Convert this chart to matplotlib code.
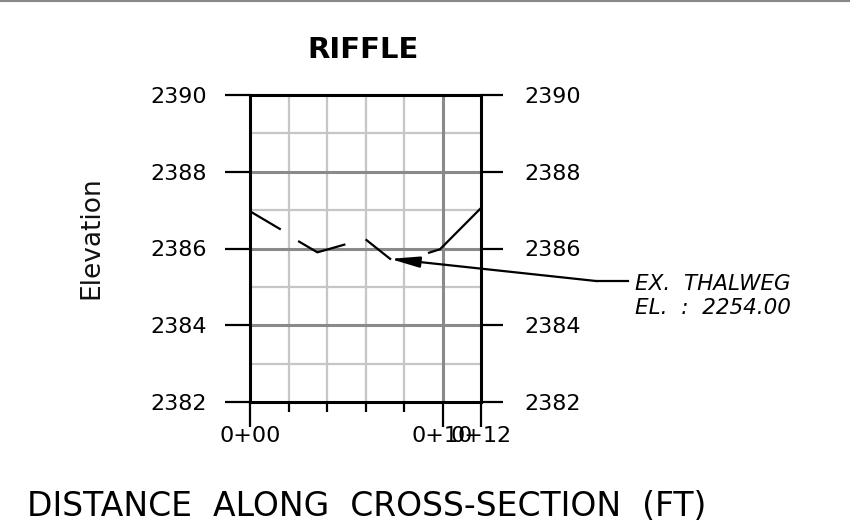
import numpy as np
import matplotlib
matplotlib.use("Agg")
import matplotlib.pyplot as plt
from matplotlib.lines import Line2D

# ---- data ----
station = [0.0, 1.55, np.nan, 2.55, 3.5, 4.9, np.nan, 6.05, 7.28, np.nan, 9.3, 9.87, 11.97]
elevation = [2386.97, 2386.51, np.nan, 2386.18, 2385.9, 2386.1, np.nan, 2386.22, 2385.73, np.nan, 2385.89, 2385.98, 2387.04]
x_major = [0, 10, 12]
x_minor = [2, 4, 6, 8]
x_labels = ["0+00", "0+10", "0+12"]
y_ticks = [2382, 2384, 2386, 2388, 2390]
title = "RIFFLE"
ylabel = "Elevation"
xlabel = "DISTANCE  ALONG  CROSS-SECTION  (FT)"
note = "EX.  THALWEG\nEL.  :  2254.00"

plt.rcParams['font.family'] = ['DejaVu Sans']

W, H = 850, 529
fig = plt.figure(figsize=(W / 100, H / 100), dpi=100)
ax = fig.add_axes([250 / W, 1 - 402 / H, 231 / W, 307 / H])
ax.set_xlim(0, 12)
ax.set_ylim(2382, 2390)

light = "#c6c6c6"
dark = "#8a8a8a"
for xv in [2, 4, 6, 8]:
    ax.axvline(xv, color=light, lw=1.6, zorder=1)
ax.axvline(10, color=dark, lw=2.2, zorder=1.5)
for yv in [2383, 2385, 2387, 2389]:
    ax.axhline(yv, color=light, lw=1.6, zorder=1)
for yv in [2384, 2386, 2388]:
    ax.axhline(yv, color=dark, lw=2.2, zorder=1.5)

ax.plot(station, elevation, color="black", lw=1.6, zorder=3)

for s in ax.spines.values():
    s.set_linewidth(2.2)
    s.set_color("black")

ax.set_xticks(x_major)
ax.set_xticklabels(x_labels)
ax.set_xticks(x_minor, minor=True)
ax.tick_params(axis="x", which="major", direction="out", length=18, width=1.6,
               labelsize=16, pad=-1, colors="black")
ax.tick_params(axis="x", which="minor", direction="out", length=7.5, width=1.6)

ax.set_yticks(y_ticks)
ax.set_yticklabels([str(v) for v in y_ticks])
ax.tick_params(axis="y", which="major", direction="out", length=18, width=1.6,
               labelsize=16, pad=13, left=True, right=True, labelleft=True, labelright=True)
ax.tick_params(axis="y", which="minor", left=False, right=False)
for t in ax.yaxis.get_major_ticks():
    t.tick2line.set_markersize(16)

# Thalweg annotation, pointing at the lowest surveyed point
arr_x = np.array(station, dtype=float)
arr_y = np.array(elevation, dtype=float)
i_min = np.nanargmin(arr_y)
tip = (arr_x[i_min], arr_y[i_min])
elbow = (18.03, 2385.15)
ax.annotate("", xy=tip, xytext=elbow,
            arrowprops=dict(arrowstyle="-|>,head_length=1.6,head_width=0.3",
                            mutation_scale=11, color="black", lw=1.6,
                            shrinkA=0, shrinkB=0),
            annotation_clip=False, zorder=4)
ax.plot([elbow[0], 19.64], [elbow[1], elbow[1]], color="black", lw=1.6, clip_on=False)
fig.text(635 / W, 1 - 296 / H, note, fontsize=15.5, style="italic",
         ha="left", va="center", linespacing=1.2)

fig.text(363 / W, 1 - 50 / H, title, fontsize=21, fontweight="bold", ha="center", va="center")
fig.text(91 / W, 1 - 238 / H, ylabel, fontsize=19, rotation=90, ha="center", va="center",
         color="#111111")
fig.text(27 / W, 1 - 516 / H, xlabel, fontsize=23.8, ha="left", va="baseline")

fig.add_artist(Line2D([0, 1], [1 - 0.8 / H, 1 - 0.8 / H], color="#888888", lw=1.5,
                      transform=fig.transFigure))

fig.savefig("out.png", dpi=100)
